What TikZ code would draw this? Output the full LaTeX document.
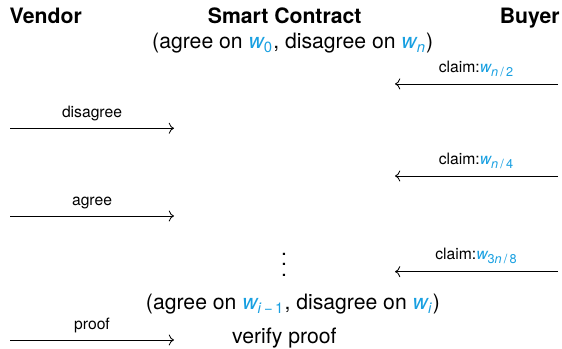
\documentclass[tikz,border=0pt]{standalone}
\usepackage{amsmath}
\usepackage{fontspec}
\setmainfont{TeX Gyre Heros}
\usetikzlibrary{arrows.meta}
\definecolor{wblue}{RGB}{25,160,225}
\DeclareMathSizes{7.4}{7.4}{6}{4.5}
\newcommand{\VL}{0.166}
\newcommand{\VR}{2.885}
\newcommand{\BL}{6.549}
\newcommand{\BR}{9.252}
\newcommand{\CX}{4.72}
\newcommand{\wv}[1]{\textcolor{wblue}{$\textit{w}_{\text{#1}}$}}
\newcommand{\vdts}{\vbox{\baselineskip5pt\lineskiplimit0pt\hbox{.}\hbox{.}\hbox{.}}}

\begin{document}
\begin{tikzpicture}[
    msg/.style={draw=black, line width=0.4pt, -{To}},
    head/.style={font=\bfseries, inner sep=0pt},
    txt/.style={inner sep=0pt},
    lbl/.style={font=\fontsize{7.4}{9}\selectfont, above},
  ]
  \useasboundingbox (0,0) rectangle (9.318,5.786);

  % the three parties
  \node[head, anchor=base west] (vendor)   at (0.154,5.389) {Vendor};
  \node[head, anchor=base]      (contract) at (\CX,5.389)   {Smart Contract};
  \node[head, anchor=base east] (buyer)    at (9.285,5.389) {Buyer};

  \node[txt, anchor=base] (start) at (4.853,4.974) {(agree on \wv{0}, disagree on \wv{\textit{n}})};

  % buyer sends its claims to the contract
  \foreach \y/\w/\nm in {4.394/{\textit{n}\,/\,2}/c1, 2.868/{\textit{n}\,/\,4}/c2, 1.282/{3\textit{n}\,/\,8}/c3} {
    \coordinate (\nm b) at (\BR,\y);
    \coordinate (\nm c) at (\BL,\y);
    \draw[msg] (\nm b) -- node[lbl] (\nm l) {claim:\wv{\w}} (\nm c);
  }

  % vendor answers
  \foreach \y/\t/\nm in {3.659/disagree/v1, 2.205/agree/v2, 0.149/proof/v3} {
    \coordinate (\nm v) at (\VL,\y);
    \coordinate (\nm c) at (\VR,\y);
    \draw[msg] (\nm v) -- node[lbl] (\nm l) {\t} (\nm c);
  }

  \node[txt, anchor=base] (dots)   at (4.709,1.205) {\vdts};
  \node[txt, anchor=base] (final)  at (4.858,0.647) {(agree on \wv{\textit{i}\,−\,1}, disagree on \wv{\textit{i}})};
  \node[txt, anchor=base] (verify) at (4.715,0.095) {verify proof};

\end{tikzpicture}
\end{document}
